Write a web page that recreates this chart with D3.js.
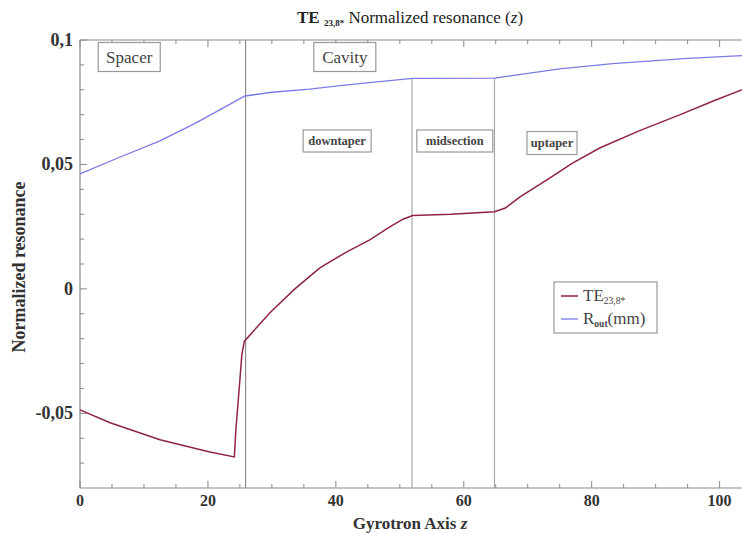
<!DOCTYPE html>
<html>
<head>
<meta charset="utf-8">
<script src="https://cdn.jsdelivr.net/npm/d3@7"></script>
<style>
  html, body { margin: 0; padding: 0; background: #fff; }
  svg { display: block; }
  svg text { font-family: "Liberation Serif", "DejaVu Serif", serif; }
</style>
</head>
<body>
<svg id="chart" width="742" height="533"></svg>
<script>
// Gyrotron axis positions and normalized resonance of the TE mode
const teZ = [0, 4.7, 12.5, 20.3, 24.14, 24.37, 25.0, 25.3, 25.7, 29.7, 33.5, 37.5, 41.5, 45.3, 48.5, 50.5, 52, 58, 64.8, 66.5, 68.8, 73, 77, 81.25, 87.5, 93.75, 99, 104];
const teVal = [-0.0486, -0.0538, -0.0606, -0.0655, -0.0675, -0.0566, -0.0365, -0.0265, -0.0210, -0.0096, -0.0002, 0.0084, 0.0146, 0.0197, 0.0250, 0.0280, 0.0295, 0.0300, 0.0310, 0.0325, 0.0370, 0.0438, 0.0505, 0.0566, 0.0636, 0.0699, 0.0755, 0.0805];

// Outer radius profile R_out (scaled to the same axis)
const rZ = [0, 6, 12.5, 18, 21.9, 25.8, 30, 35.9, 41, 46.4, 52, 64.8, 67, 75, 83.3, 95, 104];
const rVal = [0.0462, 0.0527, 0.0595, 0.0665, 0.0720, 0.0775, 0.0790, 0.0803, 0.0818, 0.0832, 0.0846, 0.0847, 0.0855, 0.0884, 0.0905, 0.0926, 0.0938];

// Section boundaries and section names
const boundaries = [25.9, 51.9, 64.8];
const mainSections = ["Spacer", "Cavity"];
const subSections = ["downtaper", "midsection", "uptaper"];

// Axis ticks
const xTicks = [0, 20, 40, 60, 80, 100];
const yTicks = [0.1, 0.05, 0, -0.05];
const yTickLabels = ["0,1", "0,05", "0", "-0,05"];

const svg = d3.select("#chart");
const pLeft = 80, pRight = 742, pTop = 40, pBottom = 488;

const x = d3.scaleLinear().domain([0, 103.5]).range([pLeft, pRight]);
const y = d3.scaleLinear().domain([-0.08, 0.1]).range([pBottom, pTop]);

const frame = "#8a8a8a";

// frame lines
svg.append("line").attr("x1", pLeft).attr("x2", pRight).attr("y1", pTop).attr("y2", pTop)
  .attr("stroke", frame).attr("stroke-width", 1.2);
svg.append("line").attr("x1", pLeft).attr("x2", pRight).attr("y1", pBottom).attr("y2", pBottom)
  .attr("stroke", frame).attr("stroke-width", 1.2);
svg.append("line").attr("x1", pLeft).attr("x2", pLeft).attr("y1", pTop).attr("y2", pBottom)
  .attr("stroke", frame).attr("stroke-width", 1.2);

// x minor/major ticks on bottom and top (pointing inward)
const xMinor = d3.range(0, 104, 5);
xMinor.forEach(v => {
  const major = v % 20 === 0;
  const len = major ? 7 : 4;
  svg.append("line").attr("x1", x(v)).attr("x2", x(v)).attr("y1", pBottom).attr("y2", pBottom - len)
    .attr("stroke", frame).attr("stroke-width", 1);
  svg.append("line").attr("x1", x(v)).attr("x2", x(v)).attr("y1", pTop).attr("y2", pTop + len)
    .attr("stroke", frame).attr("stroke-width", 1);
});

// y minor/major ticks on left axis
const yMinor = d3.range(-0.07, 0.1001, 0.01);
yMinor.forEach(v => {
  const major = Math.abs(Math.round(v * 100) % 5) === 0;
  const len = major ? 7 : 4;
  svg.append("line").attr("x1", pLeft).attr("x2", pLeft + len).attr("y1", y(v)).attr("y2", y(v))
    .attr("stroke", frame).attr("stroke-width", 1);
});

// tick labels
svg.append("g").selectAll("text").data(xTicks).join("text")
  .attr("x", d => x(d)).attr("y", pBottom + 18)
  .attr("text-anchor", "middle").attr("font-size", 16).attr("font-weight", "bold")
  .attr("fill", "#333").text(d => d);

svg.append("g").selectAll("text").data(yTicks).join("text")
  .attr("x", pLeft - 7).attr("y", d => y(d) + 6)
  .attr("text-anchor", "end").attr("font-size", 18).attr("font-weight", "bold")
  .attr("fill", "#333").text((d, i) => yTickLabels[i]);

// section boundary lines
svg.append("line").attr("x1", x(boundaries[0])).attr("x2", x(boundaries[0]))
  .attr("y1", pTop).attr("y2", pBottom).attr("stroke", "#777").attr("stroke-width", 1);
boundaries.slice(1).forEach(b => {
  svg.append("line").attr("x1", x(b)).attr("x2", x(b))
    .attr("y1", y(0.0847)).attr("y2", pBottom).attr("stroke", "#a8a8a8").attr("stroke-width", 1.2);
});

// curves
svg.append("path").datum(rZ.map((z, i) => [z, rVal[i]]))
  .attr("d", d3.line().x(d => x(d[0])).y(d => y(d[1])))
  .attr("fill", "none").attr("stroke", "#7b7be6").attr("stroke-width", 1.3);
svg.append("path").datum(teZ.map((z, i) => [z, teVal[i]]))
  .attr("d", d3.line().x(d => x(d[0])).y(d => y(d[1])))
  .attr("fill", "none").attr("stroke", "#8e2444").attr("stroke-width", 1.5);

// section label boxes
function labelBox(cx, cy, w, h, text, size, bold) {
  svg.append("rect").attr("x", cx - w / 2).attr("y", cy - h / 2).attr("width", w).attr("height", h)
    .attr("fill", "#fff").attr("stroke", "#999").attr("stroke-width", 1.2);
  svg.append("text").attr("x", cx).attr("y", cy + size * 0.33)
    .attr("text-anchor", "middle").attr("font-size", size)
    .attr("font-weight", bold ? "bold" : "normal").attr("fill", "#444").text(text);
}
labelBox(x(7.7), 57, 62, 29, mainSections[0], 17, false);
labelBox(x(41.4), 57, 62, 29, mainSections[1], 17, false);
labelBox(x(40.2), 141, 68, 22, subSections[0], 12.5, true);
labelBox(x(58.6), 141, 76, 22, subSections[1], 12.5, true);
labelBox(x(73.8), 143, 50, 23, subSections[2], 12.5, true);

// legend
const lg = svg.append("g");
lg.append("rect").attr("x", 554).attr("y", 282).attr("width", 103).attr("height", 51)
  .attr("fill", "#fff").attr("stroke", "#999").attr("stroke-width", 1.2);
lg.append("line").attr("x1", 561).attr("x2", 578).attr("y1", 296).attr("y2", 296)
  .attr("stroke", "#8e2444").attr("stroke-width", 1.5);
lg.append("line").attr("x1", 561).attr("x2", 578).attr("y1", 319).attr("y2", 319)
  .attr("stroke", "#7b7be6").attr("stroke-width", 1.3);
const t1 = lg.append("text").attr("x", 583).attr("y", 301).attr("font-size", 17).attr("fill", "#444");
t1.append("tspan").text("TE");
t1.append("tspan").attr("font-size", 9.5).attr("dy", 3).text("23,8*");
const t2 = lg.append("text").attr("x", 583).attr("y", 324).attr("font-size", 17).attr("fill", "#444");
t2.append("tspan").text("R");
t2.append("tspan").attr("font-size", 9.5).attr("font-weight", "bold").attr("dy", 3).text("out");
t2.append("tspan").attr("dy", -3).text("(mm)");

// title
const title = svg.append("text").attr("x", 410).attr("y", 23).attr("text-anchor", "middle")
  .attr("font-size", 17).attr("fill", "#222");
title.append("tspan").attr("font-weight", "bold").text("TE ");
title.append("tspan").attr("font-weight", "bold").attr("font-size", 9).attr("dy", 3).text("23,8*");
title.append("tspan").attr("dy", -3).text(" Normalized resonance (");
title.append("tspan").attr("font-style", "italic").text("z");
title.append("tspan").text(")");

// axis titles
const xt = svg.append("text").attr("x", 410).attr("y", 529).attr("text-anchor", "middle")
  .attr("font-size", 17).attr("font-weight", "bold").attr("fill", "#333");
xt.append("tspan").text("Gyrotron Axis ");
xt.append("tspan").attr("font-style", "italic").text("z");

svg.append("text").attr("transform", "translate(25,267) rotate(-90)")
  .attr("text-anchor", "middle").attr("font-size", 18).attr("font-weight", "bold")
  .attr("fill", "#333").text("Normalized resonance");
</script>
</body>
</html>
